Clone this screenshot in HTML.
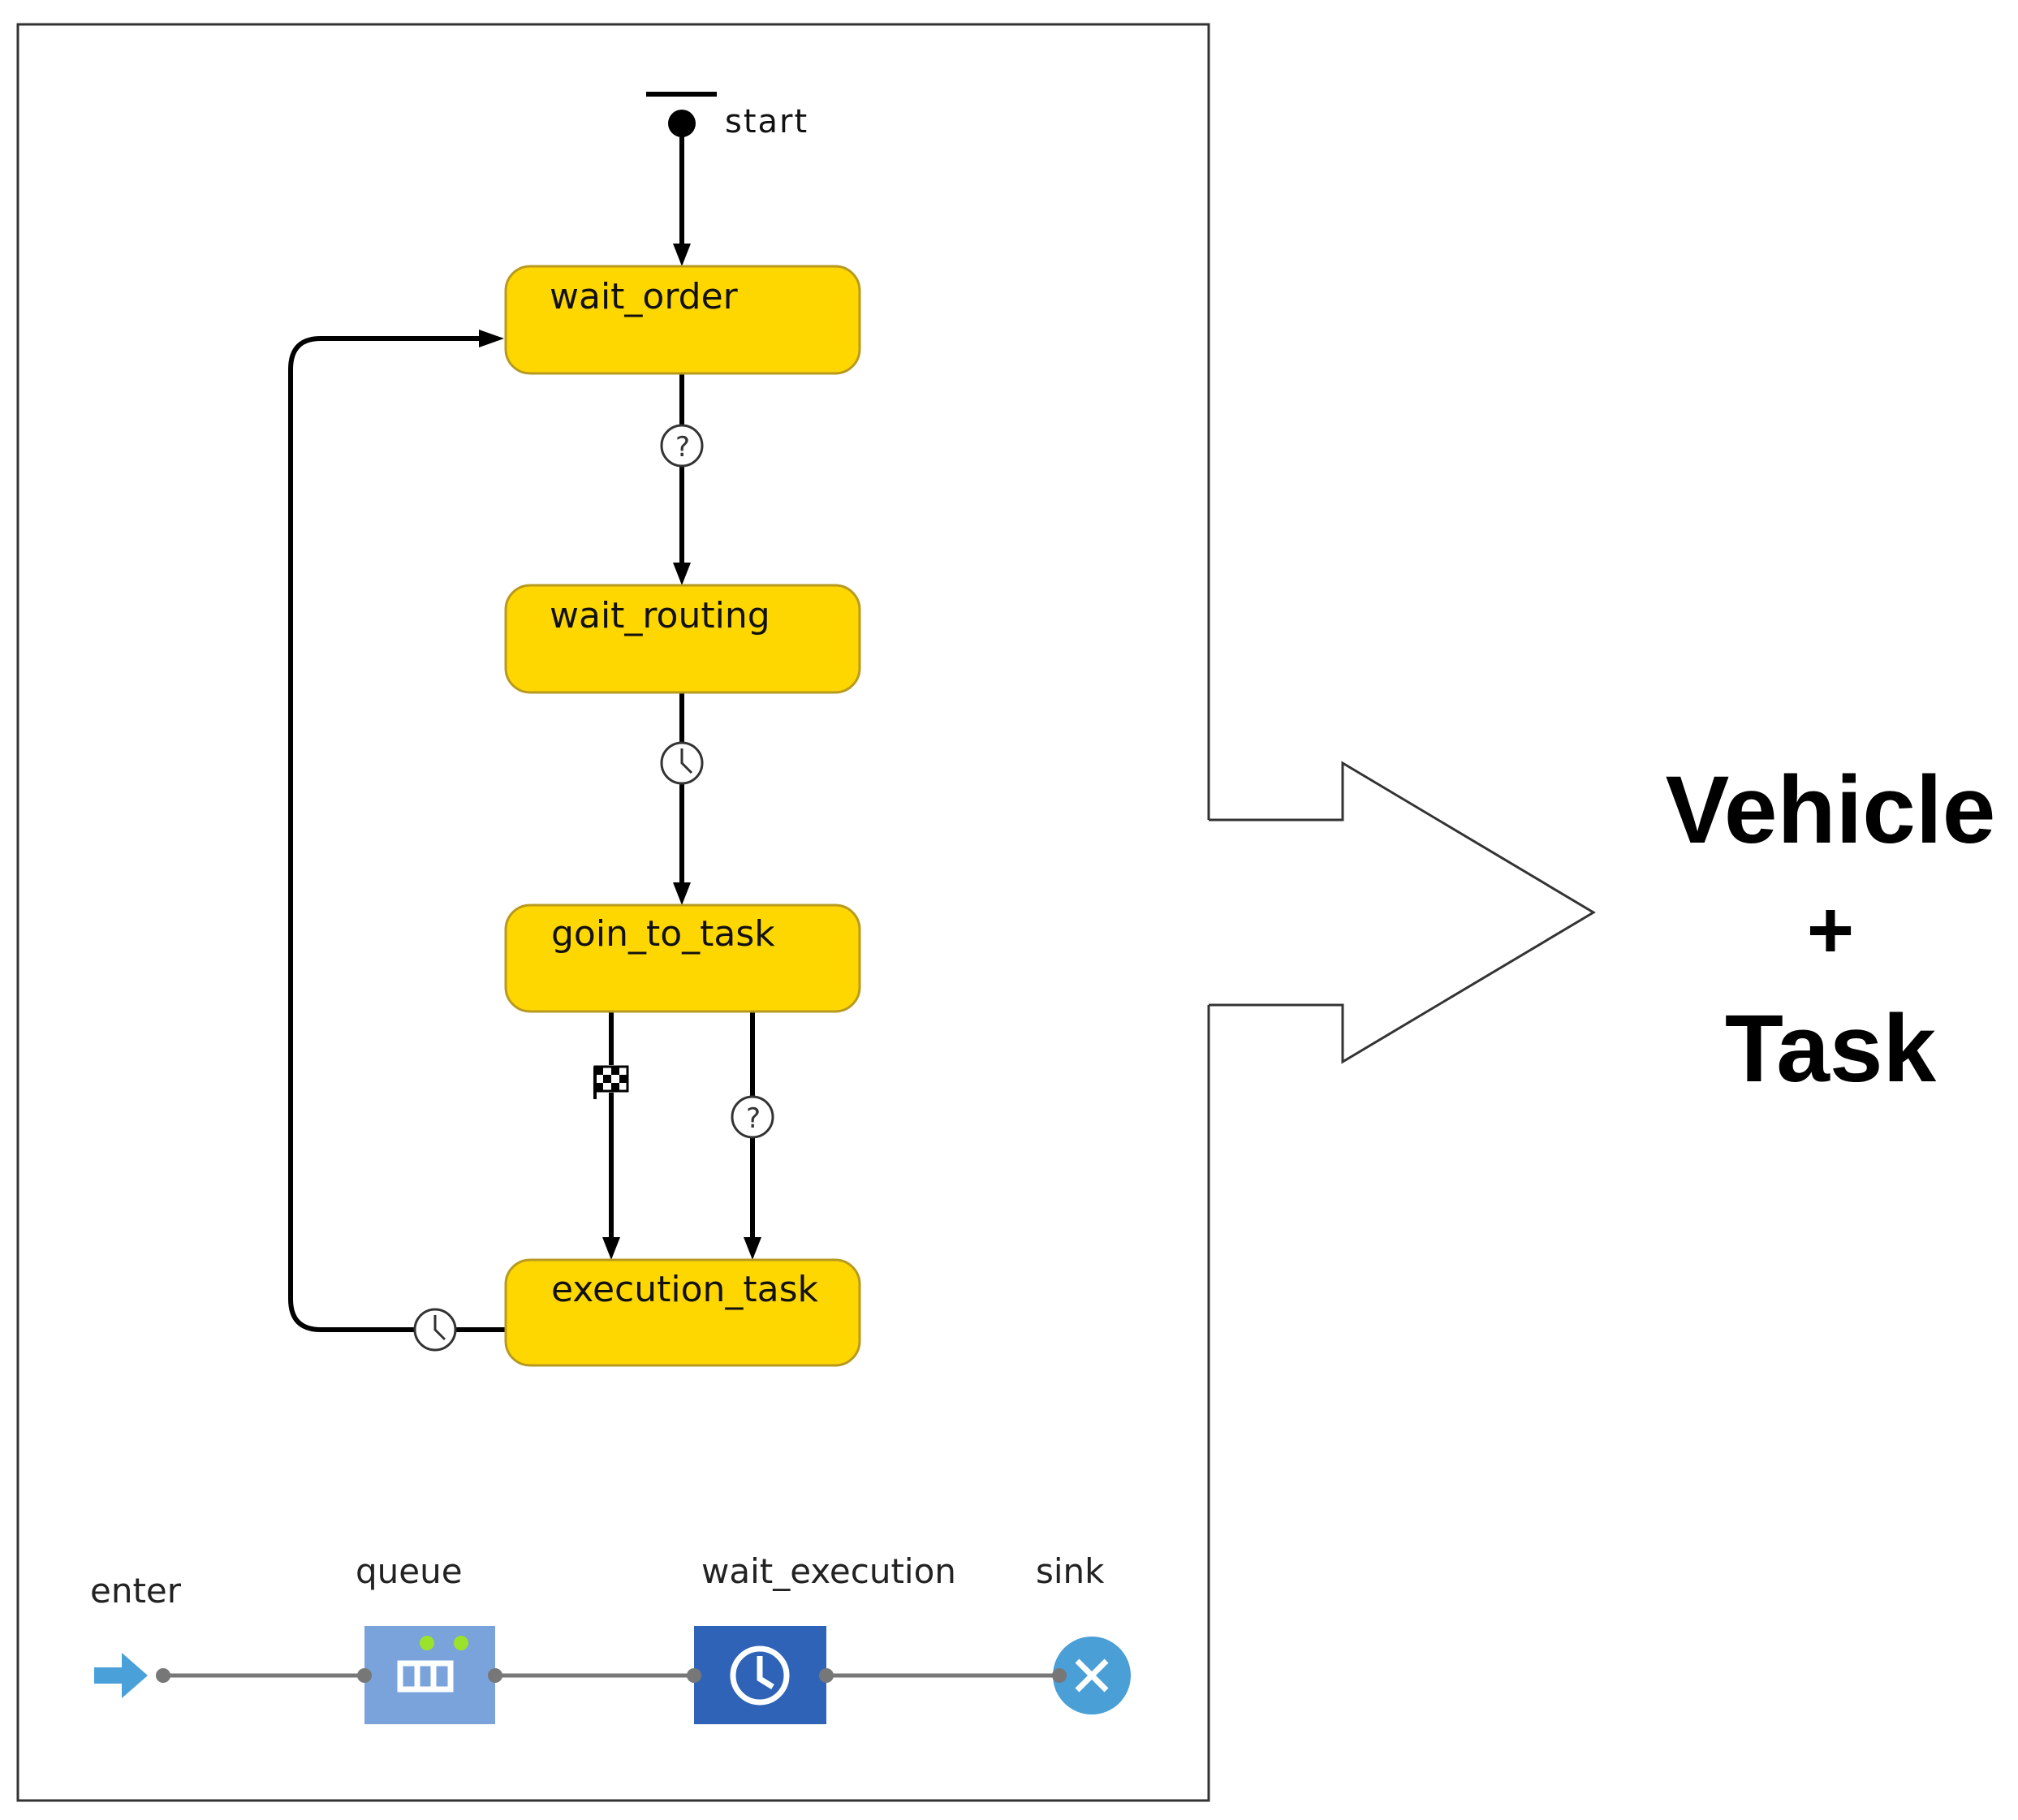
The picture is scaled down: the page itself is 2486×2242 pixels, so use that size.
<!DOCTYPE html>
<html><head><meta charset="utf-8"><style>
html,body{margin:0;padding:0;background:#fff;}
svg{display:block;}
</style></head><body>
<svg width="2486" height="2242" viewBox="0 0 2486 2242" xmlns="http://www.w3.org/2000/svg">
<defs>
<marker id="ah" markerWidth="10" markerHeight="10" refX="9" refY="5" orient="auto" markerUnits="userSpaceOnUse">
</marker>
</defs>
<!-- frame + arrow -->
<path d="M1489 1010 L1489 30 L22 30 L22 2218 L1489 2218 L1489 1238" fill="none" stroke="#333" stroke-width="3"/>
<path d="M1489 1010 L1654 1010 L1654 940 L1963 1124 L1654 1308 L1654 1238 L1489 1238" fill="none" stroke="#333" stroke-width="3"/>
<g font-family="Liberation Sans, sans-serif" font-weight="bold" text-anchor="middle" fill="#000">
<text x="2255" y="1038" font-size="118">Vehicle</text>
<text x="2255" y="1180" font-size="100">+</text>
<text x="2255" y="1332" font-size="118">Task</text>
</g>
<!-- start -->
<line x1="796" y1="116" x2="883" y2="116" stroke="#000" stroke-width="6"/>
<circle cx="840" cy="152" r="17" fill="#000"/>
<text x="893" y="163" font-family="DejaVu Sans, sans-serif" font-size="40" fill="#111" letter-spacing="2">start</text>
<g stroke="#000" stroke-width="6" fill="none">
<line x1="840" y1="152" x2="840" y2="300"/>
<line x1="840" y1="460" x2="840" y2="693"/>
<line x1="840" y1="853" x2="840" y2="1087"/>
<line x1="753" y1="1246" x2="753" y2="1524"/>
<line x1="927" y1="1246" x2="927" y2="1524"/>
<path d="M623 1638 L395 1638 Q358 1638 358 1600 L358 455 Q358 417 395 417 L595 417"/>
</g>
<g fill="#000">
<polygon points="829,300 851,300 840,328"/>
<polygon points="829,693 851,693 840,721"/>
<polygon points="829,1087 851,1087 840,1115"/>
<polygon points="742,1524 764,1524 753,1552"/>
<polygon points="916,1524 938,1524 927,1552"/>
<polygon points="590,406 590,428 621,417"/>
</g>
<!-- nodes -->
<g fill="#FFD700" stroke="#b89a20" stroke-width="3">
<rect x="623" y="328" width="436" height="132" rx="30"/>
<rect x="623" y="721" width="436" height="132" rx="30"/>
<rect x="623" y="1115" width="436" height="131" rx="30"/>
<rect x="623" y="1552" width="436" height="130" rx="30"/>
</g>
<g font-family="DejaVu Sans, sans-serif" font-size="44" fill="#111">
<text x="677" y="380">wait_order</text>
<text x="677" y="773">wait_routing</text>
<text x="679" y="1165">goin_to_task</text>
<text x="679" y="1603">execution_task</text>
</g>
<!-- icons -->
<g stroke="#333" stroke-width="3" fill="#fff">
<circle cx="840" cy="549" r="25"/>
<circle cx="840" cy="940" r="25"/>
<circle cx="927" cy="1376" r="25"/>
<circle cx="536" cy="1638" r="25"/>
</g>
<g font-family="DejaVu Sans, sans-serif" font-size="34" fill="#333" text-anchor="middle">
<text x="841" y="562">?</text>
<text x="928" y="1389">?</text>
</g>
<g stroke="#333" stroke-width="3" fill="none">
<path d="M840 922 L840 940 L852 952"/>
<path d="M536 1620 L536 1638 L548 1650"/>
</g>
<rect x="731" y="1312" width="44" height="34" fill="#fff"/>
<g fill="#000">
<rect x="733" y="1314" width="40" height="30" fill="#fff" stroke="#000" stroke-width="3"/>
<rect x="733" y="1314" width="10" height="10"/><rect x="753" y="1314" width="10" height="10"/>
<rect x="743" y="1324" width="10" height="10"/><rect x="763" y="1324" width="10" height="10"/>
<rect x="733" y="1334" width="10" height="10"/><rect x="753" y="1334" width="10" height="10"/>
<rect x="731" y="1314" width="4" height="40"/>
</g>
<!-- bottom flow -->
<g font-family="DejaVu Sans, sans-serif" font-size="42" fill="#222">
<text x="111" y="1974">enter</text>
<text x="438" y="1950">queue</text>
<text x="864" y="1950">wait_execution</text>
<text x="1276" y="1950">sink</text>
</g>
<g stroke="#777" stroke-width="5">
<line x1="201" y1="2064" x2="449" y2="2064"/>
<line x1="610" y1="2064" x2="855" y2="2064"/>
<line x1="1018" y1="2064" x2="1305" y2="2064"/>
</g>
<polygon points="116,2054 150,2054 150,2036 182,2064 150,2092 150,2074 116,2074" fill="#4aa0d8"/>
<rect x="449" y="2003" width="161" height="121" fill="#7aa3dc"/>
<circle cx="526" cy="2024" r="9" fill="#9be22b"/>
<circle cx="568" cy="2024" r="9" fill="#9be22b"/>
<g fill="none" stroke="#fff" stroke-width="7">
<rect x="493" y="2049" width="62" height="32"/>
<line x1="514" y1="2049" x2="514" y2="2081"/><line x1="534" y1="2049" x2="534" y2="2081"/>
</g>
<rect x="855" y="2003" width="163" height="121" fill="#2f63b8"/>
<circle cx="936" cy="2064" r="33" fill="none" stroke="#fff" stroke-width="7"/>
<path d="M936 2040 L936 2068 L952 2078" fill="none" stroke="#fff" stroke-width="7"/>
<circle cx="1345" cy="2064" r="48" fill="#4a9fd6"/>
<path d="M1327 2046 L1363 2082 M1363 2046 L1327 2082" stroke="#fff" stroke-width="7"/>
<g fill="#777">
<circle cx="201" cy="2064" r="9"/><circle cx="449" cy="2064" r="9"/><circle cx="610" cy="2064" r="9"/>
<circle cx="855" cy="2064" r="9"/><circle cx="1018" cy="2064" r="9"/><circle cx="1305" cy="2064" r="9"/>
</g>
</svg>
</body></html>
